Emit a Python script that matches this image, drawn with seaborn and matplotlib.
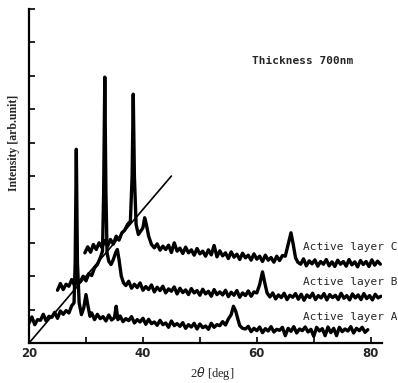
import matplotlib
matplotlib.use("Agg")
import matplotlib.pyplot as plt
import seaborn as sns
import pandas as pd

# ---- data ----
a_x = [20.0, 20.5, 21.0, 21.5, 22.0, 22.5, 23.0, 23.5, 24.0, 24.5, 25.0, 25.5, 26.0, 26.5, 27.0, 27.5,
       27.9, 28.1, 28.3, 28.5, 28.8, 29.2, 29.6, 30.0, 30.3, 30.7, 31.0, 31.5, 32.0, 32.5, 33.0, 33.5,
       34.0, 34.5, 35.0, 35.3, 35.6, 36.0, 36.5, 37.0, 37.5, 38.0, 38.5, 39.0, 39.5, 40.0, 40.5, 41.0,
       41.5, 42.0, 42.5, 43.0, 43.5, 44.0, 44.5, 45.0, 45.5, 46.0, 46.5, 47.0, 47.5, 48.0, 48.5, 49.0,
       49.5, 50.0, 50.5, 51.0, 51.5, 52.0, 52.5, 53.0, 53.5, 54.0, 54.5, 55.0, 55.5, 55.9, 56.3, 56.7,
       57.0, 57.5, 58.0, 58.5, 59.0, 59.5, 60.0, 60.5, 61.0, 61.5, 62.0, 62.5, 63.0, 63.5, 64.0, 64.5,
       65.0, 65.5, 66.0, 66.5, 67.0, 67.5, 68.0, 68.5, 69.0, 69.5, 70.0, 70.5, 71.0, 71.5, 72.0, 72.5,
       73.0, 73.5, 74.0, 74.5, 75.0, 75.5, 76.0, 76.5, 77.0, 77.5, 78.0, 78.5, 79.0, 79.5]
a_y = [0.60, 0.78, 0.55, 0.70, 0.68, 0.86, 0.66, 0.80, 0.77, 0.92, 0.74, 0.96, 0.86, 0.97, 0.90, 1.12,
       1.20, 2.40, 5.80, 2.40, 1.20, 0.85, 1.05, 1.45, 1.15, 0.80, 0.90, 0.70, 0.86, 0.73, 0.79, 0.66,
       0.84, 0.69, 0.76, 1.10, 0.70, 0.81, 0.64, 0.73, 0.67, 0.79, 0.60, 0.70, 0.63, 0.74, 0.56, 0.71,
       0.58, 0.63, 0.53, 0.68, 0.55, 0.60, 0.47, 0.66, 0.52, 0.58, 0.50, 0.61, 0.44, 0.55, 0.48, 0.59,
       0.42, 0.57, 0.46, 0.51, 0.41, 0.59, 0.47, 0.55, 0.52, 0.64, 0.54, 0.72, 0.85, 1.10, 0.95, 0.70,
       0.52, 0.44, 0.42, 0.50, 0.34, 0.44, 0.37, 0.48, 0.31, 0.43, 0.36, 0.49, 0.33, 0.41, 0.38, 0.47,
       0.22, 0.44, 0.35, 0.49, 0.30, 0.42, 0.37, 0.48, 0.33, 0.41, 0.20, 0.47, 0.36, 0.43, 0.22, 0.48,
       0.31, 0.44, 0.22, 0.47, 0.34, 0.42, 0.36, 0.49, 0.30, 0.44, 0.37, 0.47, 0.32, 0.40]

b_x = [25.0, 25.5, 26.0, 26.5, 27.0, 27.5, 28.0, 28.5, 29.0, 29.5, 30.0, 30.5, 31.0, 31.5, 32.0, 32.5,
       32.9, 33.1, 33.3, 33.5, 33.7, 34.0, 34.4, 34.8, 35.2, 35.5, 35.8, 36.2, 36.6, 37.0, 37.5, 38.0,
       38.5, 39.0, 39.5, 40.0, 40.5, 41.0, 41.5, 42.0, 42.5, 43.0, 43.5, 44.0, 44.5, 45.0, 45.5, 46.0,
       46.5, 47.0, 47.5, 48.0, 48.5, 49.0, 49.5, 50.0, 50.5, 51.0, 51.5, 52.0, 52.5, 53.0, 53.5, 54.0,
       54.5, 55.0, 55.5, 56.0, 56.5, 57.0, 57.5, 58.0, 58.5, 59.0, 59.5, 60.0, 60.5, 61.0, 61.4, 61.8,
       62.3, 62.8, 63.3, 63.8, 64.3, 64.8, 65.3, 65.8, 66.3, 66.8, 67.3, 67.8, 68.3, 68.8, 69.3, 69.8,
       70.3, 70.8, 71.3, 71.8, 72.3, 72.8, 73.3, 73.8, 74.3, 74.8, 75.3, 75.8, 76.3, 76.8, 77.3, 77.8,
       78.3, 78.8, 79.3, 79.8, 80.3, 80.8, 81.3, 81.8]
b_y = [1.58, 1.78, 1.60, 1.76, 1.70, 1.90, 1.72, 1.88, 1.84, 2.00, 1.86, 2.08, 2.02, 2.25, 2.35, 2.55,
       2.75, 4.50, 7.96, 4.50, 2.70, 2.45, 2.35, 2.50, 2.70, 2.80, 2.50, 2.00, 1.80, 1.72, 1.85, 1.64,
       1.76, 1.66, 1.80, 1.58, 1.69, 1.60, 1.74, 1.53, 1.67, 1.57, 1.70, 1.50, 1.62, 1.55, 1.68, 1.47,
       1.64, 1.51, 1.59, 1.45, 1.63, 1.50, 1.57, 1.43, 1.61, 1.47, 1.55, 1.40, 1.60, 1.45, 1.53, 1.44,
       1.58, 1.39, 1.52, 1.43, 1.57, 1.37, 1.50, 1.42, 1.56, 1.40, 1.53, 1.50, 1.75, 2.13, 1.80, 1.50,
       1.38, 1.50, 1.32, 1.44, 1.36, 1.49, 1.30, 1.43, 1.37, 1.48, 1.31, 1.46, 1.28, 1.44, 1.36, 1.49,
       1.30, 1.42, 1.35, 1.48, 1.29, 1.45, 1.36, 1.43, 1.30, 1.49, 1.34, 1.42, 1.29, 1.47, 1.35, 1.44,
       1.30, 1.48, 1.33, 1.42, 1.29, 1.46, 1.35, 1.40]

c_x = [29.8, 30.3, 30.8, 31.3, 31.8, 32.3, 32.8, 33.3, 33.8, 34.3, 34.8, 35.3, 35.8, 36.3, 36.8, 37.3,
       37.8, 38.1, 38.3, 38.5, 38.8, 39.2, 39.6, 40.0, 40.3, 40.6, 41.0, 41.5, 42.0, 42.5, 43.0, 43.5,
       44.0, 44.5, 45.0, 45.5, 46.0, 46.5, 47.0, 47.5, 48.0, 48.5, 49.0, 49.5, 50.0, 50.5, 51.0, 51.5,
       52.0, 52.5, 53.0, 53.5, 54.0, 54.5, 55.0, 55.5, 56.0, 56.5, 57.0, 57.5, 58.0, 58.5, 59.0, 59.5,
       60.0, 60.5, 61.0, 61.5, 62.0, 62.5, 63.0, 63.5, 64.0, 64.5, 65.0, 65.5, 66.0, 66.4, 66.8, 67.2,
       67.7, 68.2, 68.7, 69.2, 69.7, 70.2, 70.7, 71.2, 71.7, 72.2, 72.7, 73.2, 73.7, 74.2, 74.7, 75.2,
       75.7, 76.2, 76.7, 77.2, 77.7, 78.2, 78.7, 79.2, 79.7, 80.2, 80.7, 81.2, 81.7]
c_y = [2.70, 2.88, 2.72, 2.95, 2.80, 3.00, 2.86, 3.07, 2.90, 3.10, 2.96, 3.20, 3.08, 3.30, 3.38, 3.55,
       3.65, 5.00, 7.45, 5.00, 3.55, 3.25, 3.35, 3.45, 3.75, 3.55, 3.20, 2.95, 2.85, 2.97, 2.78, 2.90,
       2.80, 2.93, 2.71, 3.00, 2.75, 2.84, 2.68, 2.87, 2.70, 2.79, 2.63, 2.83, 2.67, 2.75, 2.60, 2.79,
       2.64, 2.92, 2.58, 2.76, 2.61, 2.70, 2.53, 2.73, 2.57, 2.66, 2.50, 2.69, 2.55, 2.63, 2.48, 2.67,
       2.51, 2.60, 2.44, 2.63, 2.48, 2.56, 2.42, 2.60, 2.47, 2.62, 2.60, 2.95, 3.30, 2.95, 2.55, 2.42,
       2.36, 2.52, 2.31, 2.46, 2.37, 2.49, 2.30, 2.44, 2.36, 2.50, 2.31, 2.43, 2.29, 2.48, 2.36, 2.44,
       2.30, 2.50, 2.34, 2.43, 2.28, 2.47, 2.35, 2.44, 2.29, 2.49, 2.33, 2.45, 2.36]

line_x = [20, 45]
line_y = [0, 5]

x_ticks = [20, 40, 60, 80]
labels = ["Active layer A", "Active layer B", "Active layer C"]
label_y = [0.78, 1.83, 2.87]

# ---- plot ----
sns.set_style("white")
fig = plt.figure(figsize=(3.98, 3.83), dpi=100)
ax = fig.add_axes([0.073, 0.1044, 0.887, 0.872])

for xs, ys in [(a_x, a_y), (b_x, b_y), (c_x, c_y)]:
    df = pd.DataFrame({"x": xs, "y": ys})
    sns.lineplot(data=df, x="x", y="y", ax=ax, color="black", lw=2.4,
                 sort=False, estimator=None)
sns.lineplot(x=line_x, y=line_y, ax=ax, color="black", lw=1.2)

ax.set_xlim(20, 82)
ax.set_ylim(0, 10)
for s in ["top", "right"]:
    ax.spines[s].set_visible(False)
for s in ["left", "bottom"]:
    ax.spines[s].set_linewidth(1.6)
    ax.spines[s].set_color("black")

ax.set_yticks(range(0, 11))
ax.set_yticklabels([])
ax.set_xticks(x_ticks)
ax.set_xticks([30, 50, 70], minor=True)
ax.set_xticklabels([str(t) for t in x_ticks], fontsize=8.5, fontweight="bold",
                   family="DejaVu Sans")
ax.tick_params(axis="both", which="both", direction="in", length=4, width=1.2,
               color="black", left=True, bottom=True)
ax.tick_params(axis="x", pad=3)

ax.set_xlabel("2$\\theta$ [deg]", fontsize=9, family="Liberation Serif", labelpad=6)
ax.xaxis.set_label_coords(0.52, -0.065)
ax.set_ylabel("Intensity [arb.unit]", fontsize=8.5, family="Liberation Serif",
              fontweight="bold", labelpad=4)
ax.yaxis.set_label_coords(-0.025, 0.6)

for lab, ly in zip(labels, label_y):
    ax.text(68.1, ly, lab, fontsize=8, family="DejaVu Sans Mono", va="center",
            ha="left", clip_on=False)
ax.text(59.1, 8.44, "Thickness 700nm", fontsize=8, family="DejaVu Sans Mono",
        fontweight="bold", va="center", ha="left")

fig.savefig("out.png", dpi=100)
